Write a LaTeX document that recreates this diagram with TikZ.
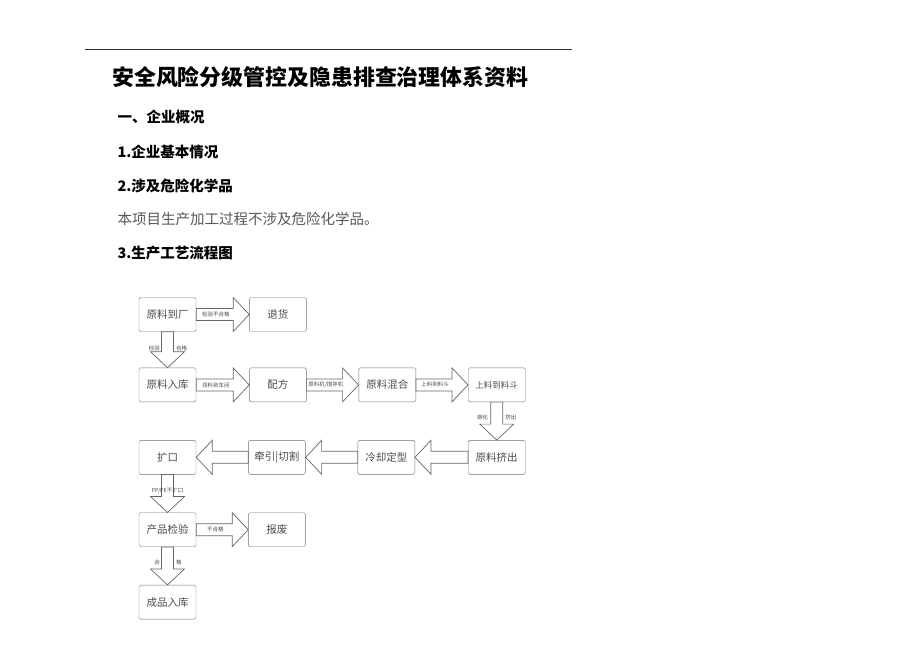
\documentclass[tikz,border=0pt]{standalone}
\usepackage{fontspec}
\setmainfont{Noto Sans CJK SC}
\usetikzlibrary{calc}
\usetikzlibrary{positioning}

\tikzset{
  box/.style={draw=black!55, rectangle, rounded corners=1.5pt, fill=white,
    minimum width=57pt, minimum height=34pt, inner sep=0pt,
    font=\fontsize{10.5}{12}\selectfont, text=black!70},
  fatline/.style={draw=black!60, fill=white, line width=0.7pt},
  lbl/.style={font=\fontsize{5.5}{6}\selectfont, text=black!70, inner sep=0.5pt},
  head/.style={anchor=west, font=\fontsize{14.5}{16}\selectfont\bfseries, text=black},
}

% fat block arrow from one anchor to another
\newcommand\fatarrow[2]{%
  \path[fatline] let \p1=(#1), \p2=(#2), \n1={atan2(\y2-\y1,\x2-\x1)},
    \n2={veclen(\x2-\x1,\y2-\y1)-16} in
    ($(\p1)+(\n1+90:6pt)$) -- ($(\p1)+(\n1:\n2)+(\n1+90:6pt)$)
    -- ($(\p1)+(\n1:\n2)+(\n1+90:17pt)$) -- (\p2)
    -- ($(\p1)+(\n1:\n2)+(\n1-90:17pt)$) -- ($(\p1)+(\n1:\n2)+(\n1-90:6pt)$)
    -- ($(\p1)+(\n1-90:6pt)$) -- cycle;}

\begin{document}
\begin{tikzpicture}[x=1pt, y=-1pt]
  \useasboundingbox[fill=white] (0,0) rectangle (920,651);

  % page head
  \coordinate (rulea) at (85,49);
  \coordinate (ruleb) at (572,49);
  \draw[black!80, line width=0.6pt] (rulea) -- (ruleb);
  \node[anchor=west, font=\fontsize{21.9}{24}\selectfont\bfseries, inner sep=0pt] (title) at (112,77) {安全风险分级管控及隐患排查治理体系资料};
  \node[head] (h1) at (114,117) {一、企业概况};
  \node[head] (h2) at (114,152) {1.企业基本情况};
  \node[head] (h3) at (114,186) {2.涉及危险化学品};
  \node[anchor=west, font=\fontsize{14.5}{16}\selectfont, text=black!65] (body) at (114,219) {本项目生产加工过程不涉及危险化学品。};
  \node[head] (h4) at (114,253) {3.生产工艺流程图};

  % flow chart boxes
  \node[box] (daochang) at (167.5,314.5) {原料到厂};
  \node[box, right=53pt of daochang] (tuihuo) {退货};
  \node[box, below=36pt of daochang] (ruku) {原料入库};
  \node[box, right=53pt of ruku] (peifang) {配方};
  \node[box, right=52pt of peifang] (hunhe) {原料混合};
  \node[box, right=52pt of hunhe, font=\fontsize{8.5}{10}\selectfont] (liaodou) {上料到料斗};
  \node[box, below=38pt of liaodou] (jichu) {原料挤出};
  \node[box, left=53pt of jichu] (lengque) {冷却定型};
  \node[box, left=52pt of lengque] (qianyin) {牵引|切割};
  \node[box, left=52pt of qianyin] (kuokou) {扩口};
  \node[box, below=38pt of kuokou] (jianyan) {产品检验};
  \node[box, right=52pt of jianyan] (baofei) {报废};
  \node[box, below=38pt of jianyan] (chengpin) {成品入库};

  % block arrows
  \fatarrow{daochang.east}{tuihuo.west}
  \fatarrow{daochang.south}{ruku.north}
  \fatarrow{ruku.east}{peifang.west}
  \fatarrow{peifang.east}{hunhe.west}
  \fatarrow{hunhe.east}{liaodou.west}
  \fatarrow{liaodou.south}{jichu.north}
  \fatarrow{jichu.west}{lengque.east}
  \fatarrow{lengque.west}{qianyin.east}
  \fatarrow{qianyin.west}{kuokou.east}
  \fatarrow{kuokou.south}{jianyan.north}
  \fatarrow{jianyan.east}{baofei.west}
  \fatarrow{jianyan.south}{chengpin.north}

  % arrow labels
  \node[lbl] (t1) at ($(daochang.east)!0.37!(tuihuo.west)$) {检验不合格};
  \node[lbl, anchor=east] (t2) at ($(daochang.south)!0.45!(ruku.north)+(-7,0)$) {检验};
  \node[lbl, anchor=west] (t3) at ($(daochang.south)!0.45!(ruku.north)+(8,0)$) {合格};
  \node[lbl] (t4) at ($(ruku.east)!0.37!(peifang.west)$) {领料到车间};
  \node[lbl] (t5) at ($(peifang.east)!0.37!(hunhe.west)$) {原料机/搅拌机};
  \node[lbl] (t6) at ($(hunhe.east)!0.37!(liaodou.west)$) {上料到料斗};
  \node[lbl, anchor=east] (t7) at ($(liaodou.south)!0.4!(jichu.north)+(-8,0)$) {熔化};
  \node[lbl, anchor=west] (t8) at ($(liaodou.south)!0.4!(jichu.north)+(8,0)$) {挤出};
  \node[lbl] (t9) at ($(kuokou.south)!0.42!(jianyan.north)$) {PP/PE不扩口};
  \node[lbl] (t10) at ($(jianyan.east)!0.37!(baofei.west)$) {不合格};
  \node[lbl, anchor=east] (t11) at ($(jianyan.south)!0.4!(chengpin.north)+(-7,0)$) {合};
  \node[lbl, anchor=west] (t12) at ($(jianyan.south)!0.4!(chengpin.north)+(8,0)$) {格};
\end{tikzpicture}
\end{document}
